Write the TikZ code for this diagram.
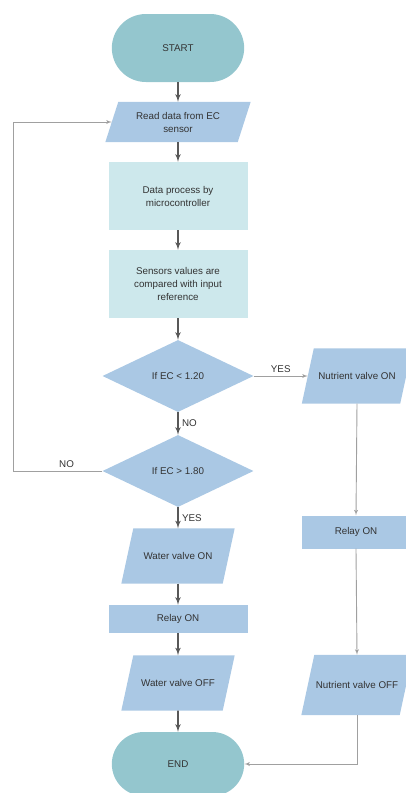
\documentclass[tikz,border=0pt]{standalone}
\usepackage{fontspec}
\setmainfont{Liberation Sans}
\usepackage{tikz}
\usetikzlibrary{shapes.geometric,shapes.misc,arrows}
\definecolor{termcol}{RGB}{148,198,206}
\definecolor{iocol}{RGB}{170,200,228}
\definecolor{proccol}{RGB}{205,232,236}
\definecolor{flowcol}{RGB}{88,88,88}
\definecolor{sidecol}{RGB}{160,160,160}
\newcommand{\fcfont}{\fontsize{9.8}{13}\selectfont}
\tikzset{
	terminal/.style={rounded rectangle, fill=termcol, minimum width=139pt, font=\fcfont, text=black!80},
	iobox/.style={rectangle, inner sep=0pt},
	procbox/.style={rectangle, fill=#1, minimum width=139pt, align=center, font=\fcfont, text=black!80},
	decision/.style={diamond, fill=iocol, minimum width=151pt, minimum height=72pt, inner sep=0pt, font=\fcfont, text=black!80},
	flow/.style={->, >=latex', draw=flowcol, line width=1.6pt},
	side/.style={->, >=latex', draw=sidecol, line width=0.9pt},
	lbl/.style={font=\fcfont, text=black!80}
}
% name, position, text, mid width, height, half slant
\newcommand{\iopara}[6]{
	\node [iobox, minimum width=#4, minimum height=#5] (#1) at (#2) {};
	\fill [iocol] ([xshift=-#6]#1.south west) -- ([xshift=#6]#1.north west) -- ([xshift=#6]#1.north east) -- ([xshift=-#6]#1.south east) -- cycle;
	\node [lbl, align=center] at (#2) {#3};}

\begin{document}
\begin{tikzpicture}[x=1pt,y=-1pt]
	\useasboundingbox (0,0) rectangle (405,793);
	\node [terminal, minimum height=68pt] (start) at (178,48) {START};
	\iopara{read}{178,122}{Read data from EC\\ sensor}{132pt}{40pt}{6.5pt}
	\node [procbox=proccol, minimum height=68pt] (proc) at (178,196) {Data process by\\ microcontroller};
	\node [procbox=proccol, minimum height=68pt] (comp) at (178,284) {Sensors values are\\ compared with input\\ reference};
	\node [decision] (iflow) at (178,376) {If EC < 1.20};
	\node [decision] (ifhigh) at (178,471) {If EC > 1.80};
	\iopara{wvon}{178,556}{Water valve ON}{101pt}{55pt}{6pt}
	\node [procbox=iocol, minimum height=28pt] (relayl) at (178,619) {Relay ON};
	\iopara{wvoff}{178,683}{Water valve OFF}{101pt}{55pt}{6pt}
	\node [terminal, minimum height=64pt] (finish) at (178,764) {END};
	\iopara{nvon}{357,376}{Nutrient valve ON}{98pt}{55pt}{6pt}
	\node [procbox=iocol, minimum width=108pt, minimum height=33pt] (relayr) at (356,532) {Relay ON};
	\iopara{nvoff}{357,685}{Nutrient valve OFF}{98pt}{60pt}{6.5pt}
	\coordinate (loop) at (13,471);
	% main flow
	\draw [flow] (start) -- (read);
	\draw [flow] (read) -- (proc);
	\draw [flow] (proc) -- (comp);
	\draw [flow] (comp) -- (iflow);
	\draw [flow] (iflow) -- node [lbl, right] {NO} (ifhigh);
	\draw [flow] (ifhigh) -- node [lbl, right] {YES} (wvon);
	\draw [flow] (wvon) -- (relayl);
	\draw [flow] (relayl) -- (wvoff);
	\draw [flow] (wvoff) -- (finish);
	% side branches
	\draw [side] (iflow.east) -- node [lbl, above] {YES} (nvon.west);
	\draw [side] (nvon.south) -- (relayr.north);
	\draw [side] (relayr.south) -- (nvoff.north);
	\draw [side] (nvoff.south) |- (finish.east);
	\draw [side] (ifhigh.west) -- node [lbl, above, pos=0.4] {NO} (loop) |- (read.west);
\end{tikzpicture}
\end{document}
